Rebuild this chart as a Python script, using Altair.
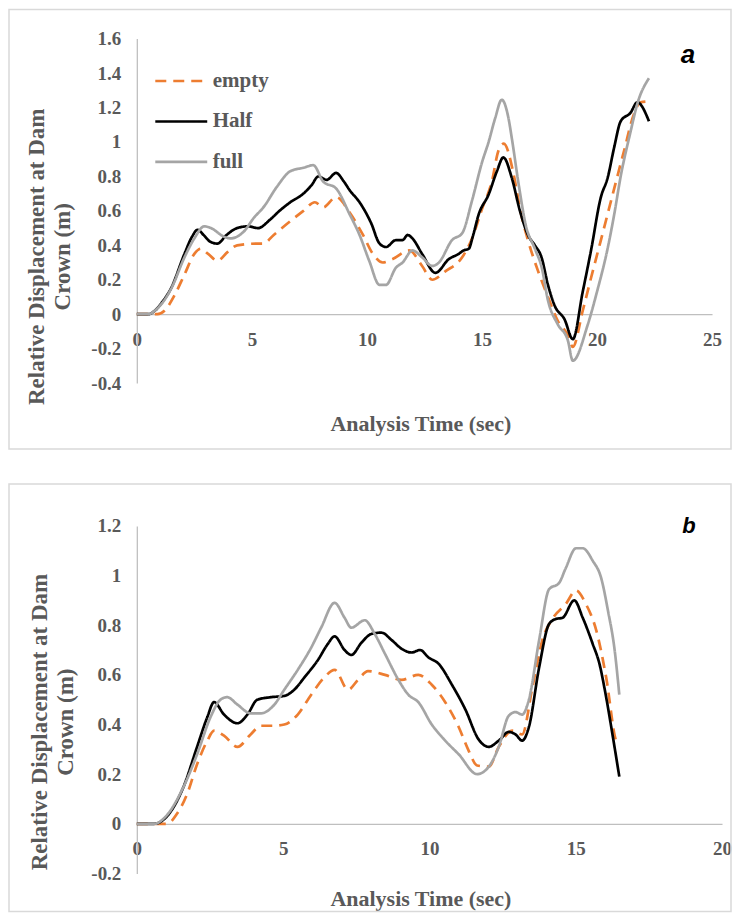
import altair as alt
import pandas as pd

# ---------------- Panel a data ----------------
a_empty_t = [0, 0.9, 1.2, 1.64, 2.07, 2.5, 2.78, 3.1, 3.5, 3.94, 4.36, 5.23, 5.5, 5.95, 6.67, 7.24, 7.74, 8.1,
             8.66, 9.25, 9.83, 10.26, 10.69, 11.12, 11.84, 12.4, 12.84, 13.42, 14.14, 14.57, 15.0, 15.43, 15.72,
             15.95, 16.38, 16.67, 17.0, 17.44, 17.87, 18.3, 18.73, 18.95, 19.38, 19.74, 20.17, 20.75, 21.18,
             21.6, 21.89, 22.26]
a_empty_v = [0, 0, 0.02, 0.11, 0.23, 0.35, 0.38, 0.35, 0.31, 0.36, 0.40, 0.41, 0.41, 0.46, 0.54, 0.60, 0.65, 0.62,
             0.68, 0.59, 0.46, 0.35, 0.30, 0.32, 0.37, 0.28, 0.20, 0.25, 0.33, 0.44, 0.61, 0.77, 0.95,
             0.99, 0.81, 0.60, 0.43, 0.25, 0.10, -0.04, -0.12, -0.19, 0.02, 0.21, 0.43, 0.73, 0.95,
             1.16, 1.23, 1.235]

a_half_t = [0, 0.5, 0.78, 1.1, 1.5, 2.07, 2.4, 2.64, 2.9, 3.2, 3.5, 3.9, 4.36, 4.84, 5.27, 5.8, 6.2, 6.67, 7.24,
            7.6, 7.89, 8.25, 8.66, 9.0, 9.25, 9.68, 10.18, 10.55, 10.83, 11.26, 11.55, 11.77, 11.98, 12.4,
            12.98, 13.56, 13.99, 14.2, 14.43, 14.6, 14.86, 15.29, 15.65, 15.93, 16.3, 16.65, 17.0, 17.3, 17.59,
            17.87, 18.16, 18.59, 18.95, 19.38, 19.74, 20.17, 20.46, 20.75, 21.03, 21.46, 21.75, 22.26]
a_half_v = [0, 0, 0.02, 0.07, 0.154, 0.35, 0.45, 0.49, 0.46, 0.42, 0.41, 0.46, 0.50, 0.51, 0.50, 0.55, 0.60, 0.65, 0.70,
            0.75, 0.80, 0.78, 0.82, 0.77, 0.72, 0.65, 0.53, 0.41, 0.39, 0.43, 0.43, 0.46, 0.44, 0.35,
            0.24, 0.32, 0.35, 0.37, 0.38, 0.45, 0.58, 0.695, 0.83, 0.91, 0.79, 0.60, 0.46, 0.40, 0.33,
            0.17, 0.05, -0.03, -0.145, 0.13, 0.37, 0.68, 0.79, 0.97, 1.12, 1.17, 1.23, 1.12]

a_full_t = [0, 0.5, 0.78, 1.5, 2.07, 2.5, 2.93, 3.22, 3.79, 4.07, 4.65, 5.09, 5.5, 6.09, 6.67, 7.24, 7.67, 8.1,
            8.66, 9.25, 9.68, 10.1, 10.55, 10.83, 11.26, 11.55, 11.98, 12.4, 12.84, 13.13, 13.7, 14.14, 14.57,
            15.0, 15.29, 15.58, 15.86, 16.15, 16.3, 16.6, 16.9, 17.3, 17.6, 17.87, 18.3, 18.73, 18.95, 19.6,
            20.0, 20.46, 20.75, 21.03, 21.46, 21.75, 22.26]
a_full_v = [0, 0, 0.02, 0.15, 0.33, 0.44, 0.51, 0.50, 0.45, 0.44, 0.48, 0.56, 0.62, 0.74, 0.83, 0.85, 0.865, 0.77,
            0.73, 0.58, 0.46, 0.31, 0.17, 0.17, 0.27, 0.30, 0.37, 0.33, 0.28, 0.30, 0.43, 0.47, 0.66,
            0.88, 1.0, 1.14, 1.245, 1.14, 1.02, 0.75, 0.52, 0.38, 0.27, 0.08, -0.06, -0.15, -0.27, -0.06,
            0.13, 0.38, 0.58, 0.80, 1.06, 1.22, 1.37]

# ---------------- Panel b data ----------------
b_empty_t = [0, 1.03, 1.37, 1.72, 2.06, 2.41, 2.64, 2.98, 3.44, 3.89, 4.24, 4.7, 5.04, 5.5, 5.96, 6.41, 6.76, 7.22,
             7.56, 7.9, 8.48, 9.05, 9.62, 10.08, 10.54, 11.0, 11.34, 11.63, 12.03, 12.37, 12.83, 13.17, 13.52,
             13.86, 14.2, 14.66, 15.01, 15.35, 15.7, 16.04, 16.38, 16.45]
b_empty_v = [0, 0, 0.04, 0.12, 0.24, 0.335, 0.375, 0.355, 0.31, 0.36, 0.395, 0.395, 0.40, 0.44, 0.52, 0.59, 0.62, 0.54,
             0.58, 0.615, 0.60, 0.58, 0.60, 0.56, 0.49, 0.39, 0.295, 0.235, 0.23, 0.31, 0.375, 0.36, 0.55,
             0.74, 0.825, 0.885, 0.94, 0.885, 0.78, 0.59, 0.335, 0.32]

b_half_t = [0, 0.6, 1.03, 1.6, 2.06, 2.41, 2.64, 2.98, 3.44, 3.78, 4.12, 4.58, 5.04, 5.38, 5.73, 6.19, 6.53, 6.76,
            7.1, 7.33, 7.68, 8.02, 8.36, 8.71, 9.05, 9.39, 9.68, 9.97, 10.31, 10.77, 11.23, 11.68, 12.03, 12.37,
            12.71, 12.94, 13.17, 13.4, 13.75, 14.09, 14.32, 14.55, 14.95, 15.24, 15.58, 15.81, 16.04, 16.27, 16.49]
b_half_v = [0, 0, 0.03, 0.15, 0.31, 0.43, 0.49, 0.44, 0.405, 0.44, 0.50, 0.51, 0.515, 0.54, 0.59, 0.66, 0.725, 0.755,
            0.70, 0.68, 0.73, 0.765, 0.77, 0.74, 0.705, 0.69, 0.70, 0.67, 0.645, 0.56, 0.46, 0.34, 0.31, 0.335,
            0.37, 0.36, 0.335, 0.39, 0.63, 0.805, 0.825, 0.83, 0.90, 0.83, 0.725, 0.645, 0.51, 0.35, 0.19]

b_full_t = [0, 0.6, 1.03, 1.6, 2.06, 2.52, 2.86, 3.09, 3.44, 3.89, 4.24, 4.7, 5.04, 5.5, 5.96, 6.3, 6.76, 7.1, 7.33,
            7.79, 8.13, 8.48, 8.94, 9.28, 9.62, 10.08, 10.54, 11.0, 11.63, 12.03, 12.37, 12.71, 12.94, 13.17,
            13.4, 13.75, 14.09, 14.43, 14.66, 15.01, 15.24, 15.58, 15.87, 16.1, 16.33, 16.49]
b_full_v = [0, 0, 0.035, 0.15, 0.28, 0.43, 0.50, 0.51, 0.48, 0.445, 0.445, 0.48, 0.54, 0.62, 0.71, 0.79, 0.89, 0.83,
            0.79, 0.82, 0.765, 0.685, 0.58, 0.52, 0.49, 0.40, 0.335, 0.28, 0.20, 0.23, 0.31, 0.435, 0.45, 0.44,
            0.50, 0.74, 0.945, 0.97, 1.03, 1.11, 1.11, 1.06, 0.99, 0.86, 0.70, 0.52]

SERIES = ["empty", "Half", "full"]
COLORS = ["#ED7D31", "#000000", "#A5A5A5"]
DASHES = [[11, 7], [1, 0], [1, 0]]

a_xticks = [0, 5, 10, 15, 20, 25]
a_yticks = [-0.4, -0.2, 0, 0.2, 0.4, 0.6, 0.8, 1.0, 1.2, 1.4, 1.6]
b_xticks = [0, 5, 10, 15, 20]
b_yticks = [-0.2, 0, 0.2, 0.4, 0.6, 0.8, 1.0, 1.2]

X_TITLE = "Analysis  Time (sec)"
Y_TITLE = ["Relative  Displacement at Dam", "Crown (m)"]

SERIF = "Liberation Serif"
GRAY_TXT = "#595959"
AXIS_COL = "#BFBFBF"


def long_df(parts):
    rows = []
    for name, ts, vs in parts:
        for t, v in zip(ts, vs):
            rows.append({"series": name, "t": t, "v": v})
    return pd.DataFrame(rows)


def panel(df, xdom, xvals, ydom, yvals, W, H, frame, leg_xy, rowpad, letter, letter_xy, letter_size,
          ytitle_xy, xtitle_xy):
    zero_px = H * (ydom[1] - 0) / (ydom[1] - ydom[0])
    label_expr = "datum.value < 0 ? '-' + format(-datum.value, '.1~f') : format(datum.value, '.1~f')"
    legend = alt.Legend(
        orient="none", legendX=leg_xy[0], legendY=leg_xy[1], title=None,
        symbolType="M-1,0H4.2", symbolSize=400, symbolStrokeWidth=2.6,
        labelOffset=36, rowPadding=rowpad, padding=0,
        labelFont=SERIF, labelFontSize=21, labelFontWeight="bold", labelColor=GRAY_TXT,
    )
    lines = alt.Chart(df).mark_line(strokeWidth=2.7, interpolate="monotone").encode(
        x=alt.X("t:Q", scale=alt.Scale(domain=xdom, nice=False, zero=False),
                axis=alt.Axis(values=xvals, offset=-(H - zero_px), grid=False, ticks=False,
                              domainColor=AXIS_COL, domainWidth=1.3,
                              labelFont=SERIF, labelFontSize=19, labelFontWeight="bold",
                              labelColor=GRAY_TXT, labelPadding=16, labelFlush=False,
                              title=X_TITLE, titleFont=SERIF, titleFontSize=22, titleFontWeight="bold",
                              titleColor=GRAY_TXT, titleX=xtitle_xy[0], titleY=xtitle_xy[1],
                              titleAlign="center", titleBaseline="alphabetic")),
        y=alt.Y("v:Q", scale=alt.Scale(domain=ydom, nice=False, zero=False),
                axis=alt.Axis(values=yvals, grid=False, ticks=False, labelExpr=label_expr,
                              domainColor=AXIS_COL, domainWidth=1.3,
                              labelFont=SERIF, labelFontSize=19, labelFontWeight="bold",
                              labelColor=GRAY_TXT, labelPadding=16, labelFlush=False,
                              title=Y_TITLE, titleFont=SERIF, titleFontSize=23, titleFontWeight="bold",
                              titleColor=GRAY_TXT, titleX=ytitle_xy[0], titleY=ytitle_xy[1],
                              titleAngle=270, titleAlign="center", titleBaseline="alphabetic",
                              titleLineHeight=26)),
        color=alt.Color("series:N", scale=alt.Scale(domain=SERIES, range=COLORS), legend=legend),
        strokeDash=alt.StrokeDash("series:N", scale=alt.Scale(domain=SERIES, range=DASHES), legend=legend),
        order=alt.Order("t:Q"),
    ).properties(width=W, height=H)

    frame_layer = alt.Chart(pd.DataFrame({"f": [0]})).mark_rect(
        fill="white", fillOpacity=0, stroke="#D9D9D9", strokeWidth=1.5
    ).encode(x=alt.value(frame[0]), x2=alt.value(frame[1]), y=alt.value(frame[2]), y2=alt.value(frame[3]))

    letter_layer = alt.Chart(pd.DataFrame({"lab": [letter]})).mark_text(
        font="Liberation Sans", fontStyle="italic", fontWeight="bold", fontSize=letter_size,
        color="black", baseline="middle", align="center"
    ).encode(x=alt.value(letter_xy[0]), y=alt.value(letter_xy[1]), text="lab:N")

    return alt.layer(frame_layer, lines, letter_layer).properties(width=W, height=H)


df_a = long_df([("empty", a_empty_t, a_empty_v), ("Half", a_half_t, a_half_v), ("full", a_full_t, a_full_v)])
df_b = long_df([("empty", b_empty_t, b_empty_v), ("Half", b_half_t, b_half_v), ("full", b_full_t, b_full_v)])

pa = panel(df_a, [0, 25], a_xticks, [-0.4, 1.6], a_yticks, 576, 345,
           frame=(-128, 595, -29, 411), leg_xy=(17, 31), rowpad=18.5,
           letter="a", letter_xy=(552, 16), letter_size=26,
           ytitle_xy=(-93, 218), xtitle_xy=(284, 116))
pb = panel(df_b, [0, 20], b_xticks, [-0.2, 1.2], b_yticks, 586, 348,
           frame=(-128, 595, -42, 386), leg_xy=(35, -11), rowpad=15,
           letter="b", letter_xy=(553, 0), letter_size=22,
           ytitle_xy=(-90, 196), xtitle_xy=(284, 82))

chart = alt.vconcat(pa, pb, spacing=33).properties(
    padding=0
).configure(padding=0).configure_view(strokeWidth=0)

chart.save("out.html", embed_options={"renderer": "svg", "actions": False})
